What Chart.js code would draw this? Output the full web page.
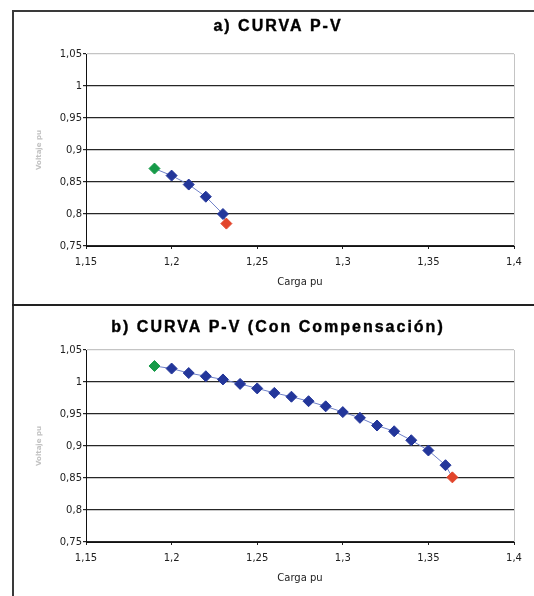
<!DOCTYPE html>
<html><head><meta charset="utf-8">
<script src="https://cdn.jsdelivr.net/npm/chart.js@4"></script>
<style>
html,body{margin:0;padding:0;background:#fff;}
body{width:534px;height:596px;position:relative;overflow:hidden;}
.box{position:absolute;left:0;width:534px;height:300px;}
.ln{position:absolute;background:#3a3a3a;}
</style></head><body>
<div class="ln" style="left:12px;top:10px;width:522px;height:2px"></div>
<div class="ln" style="left:12px;top:10px;width:2px;height:586px"></div>
<div class="ln" style="left:12px;top:304px;width:522px;height:2px;background:#222"></div>
<div class="box" style="top:0"><canvas id="cA" width="534" height="300"></canvas></div>
<div class="box" style="top:296px"><canvas id="cB" width="534" height="300"></canvas></div>
<script>
// ---- data ----
const titleA = 'a) CURVA P-V';
const titleB = 'b) CURVA P-V (Con Compensación)';
const xTitle = 'Carga pu';
const yTitle = 'Voltaje pu';
const xTickValues = [1.15, 1.2, 1.25, 1.3, 1.35, 1.4];
const xTickLabels = ['1,15', '1,2', '1,25', '1,3', '1,35', '1,4'];
const yTickValues = [0.75, 0.8, 0.85, 0.9, 0.95, 1.0, 1.05];
const yTickLabels = ['0,75', '0,8', '0,85', '0,9', '0,95', '1', '1,05'];
const cargaA = [1.19, 1.2, 1.21, 1.22, 1.23, 1.232];
const voltajeA = [0.871, 0.860, 0.846, 0.827, 0.800, 0.785];
const cargaB = [1.19, 1.2, 1.21, 1.22, 1.23, 1.24, 1.25, 1.26, 1.27, 1.28, 1.29, 1.30, 1.31, 1.32, 1.33, 1.34, 1.35, 1.36, 1.364];
const voltajeB = [1.025, 1.021, 1.014, 1.009, 1.004, 0.997, 0.990, 0.983, 0.977, 0.970, 0.962, 0.953, 0.944, 0.932, 0.923, 0.909, 0.893, 0.870, 0.851];

// ---- styling ----
const BLUE = '#23369a', GREEN = '#169a48', RED = '#e2452b', LINE = '#6f80c8';

const titlePlugin = {
  id: 'ttl',
  afterDraw(chart, args, opts) {
    const c = chart.ctx;
    c.save();
    c.font = 'bold 16px "Liberation Sans", Arial, sans-serif';
    c.fillStyle = '#000';
    c.strokeStyle = '#000';
    c.lineWidth = 0.4;
    c.textAlign = 'center';
    c.textBaseline = 'middle';
    if ('letterSpacing' in c) c.letterSpacing = '2px';
    c.fillText(opts.text, opts.x, opts.y);
    c.strokeText(opts.text, opts.x, opts.y);
    c.restore();
  }
};

function labelFor(values, labels) {
  return v => {
    const i = values.findIndex(t => Math.abs(t - v) < 1e-6);
    return i >= 0 ? labels[i] : '';
  };
}

function makeChart(id, xs, ys, title, titleY) {
  const pts = xs.map((x, i) => ({x: x, y: ys[i]}));
  const n = pts.length;
  return new Chart(document.getElementById(id), {
    type: 'scatter',
    data: {datasets: [{
      data: pts,
      showLine: true,
      borderColor: LINE,
      borderWidth: 1,
      pointStyle: 'rectRot',
      pointRadius: 5.5,
      pointBorderWidth: 1,
      pointBackgroundColor: c => c.dataIndex === 0 ? GREEN : (c.dataIndex === n - 1 ? RED : BLUE),
      pointBorderColor: c => c.dataIndex === 0 ? GREEN : (c.dataIndex === n - 1 ? RED : BLUE)
    }]},
    options: {
      responsive: false,
      animation: false,
      events: [],
      layout: {padding: {top: 54, right: 20, bottom: 0, left: 20}},
      plugins: {
        legend: {display: false},
        tooltip: {enabled: false},
        ttl: {text: title, x: 278, y: titleY}
      },
      scales: {
        x: {
          type: 'linear', min: 1.15, max: 1.4,
          afterBuildTicks: s => { s.ticks = xTickValues.map(v => ({value: v})); },
          afterFit: s => { s.height = 54; },
          ticks: {callback: labelFor(xTickValues, xTickLabels), font: {family: 'DejaVu Sans', size: 10}, color: '#222', padding: 7, maxRotation: 0, autoSkip: false},
          grid: {
            color: c => (c.tick && c.tick.value > 1.39) ? '#c4c4c4' : 'rgba(0,0,0,0)',
            tickColor: '#222', tickLength: 3, lineWidth: 1, drawTicks: true
          },
          border: {display: true, color: '#111', width: 1},
          title: {display: true, text: xTitle, font: {family: 'DejaVu Sans', size: 10}, color: '#222', padding: {top: 0, bottom: 12}}
        },
        y: {
          type: 'linear', min: 0.75, max: 1.05,
          afterBuildTicks: s => { s.ticks = yTickValues.map(v => ({value: v})); },
          afterFit: s => { s.width = 66; },
          ticks: {callback: labelFor(yTickValues, yTickLabels), font: {family: 'DejaVu Sans', size: 10}, color: '#222', padding: 1},
          grid: {
            color: c => (c.tick && c.tick.value > 1.04) ? '#c4c4c4' : '#262626',
            tickColor: '#222', tickLength: 3, lineWidth: 1.2, drawTicks: true
          },
          border: {display: true, color: '#111', width: 1},
          title: {display: true, text: yTitle, font: {family: 'DejaVu Sans', size: 7, weight: 'bold'}, color: '#c2c2c2', padding: {top: 15, bottom: 0}}
        }
      }
    },
    plugins: [titlePlugin]
  });
}

makeChart('cA', cargaA, voltajeA, titleA, 27);
makeChart('cB', cargaB, voltajeB, titleB, 32);
</script>
</body></html>
